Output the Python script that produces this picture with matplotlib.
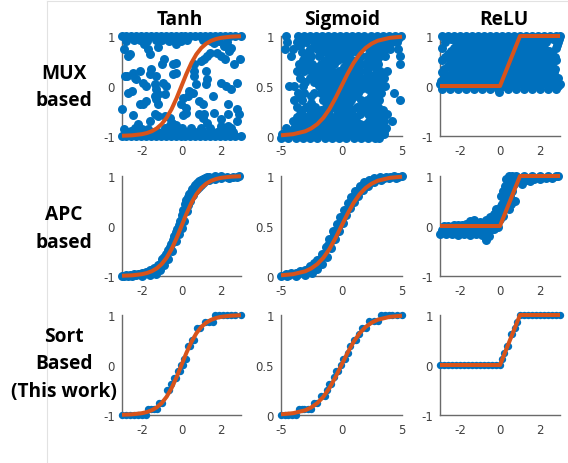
import matplotlib
matplotlib.use("Agg")
import matplotlib.pyplot as plt
from matplotlib.lines import Line2D

W, H = 568, 464
BLUE = "#0070BD"
ORANGE = "#D8531A"

# curves
tanh_x = [-3, -2.5, -2, -1.75, -1.5, -1.25, -1, -0.75, -0.5, -0.25, 0, 0.25, 0.5, 0.75, 1, 1.25, 1.5, 1.75, 2, 2.5, 3]
tanh_y = [-0.995, -0.987, -0.964, -0.941, -0.905, -0.848, -0.762, -0.635, -0.462, -0.245, 0, 0.245, 0.462, 0.635, 0.762, 0.848, 0.905, 0.941, 0.964, 0.987, 0.995]
sig_x = [-5, -4, -3, -2.5, -2, -1.5, -1, -0.5, 0, 0.5, 1, 1.5, 2, 2.5, 3, 4, 5]
sig_y = [0.007, 0.018, 0.047, 0.076, 0.119, 0.182, 0.269, 0.378, 0.5, 0.622, 0.731, 0.818, 0.881, 0.924, 0.953, 0.982, 0.993]
relu_x = [-3, 0, 1, 3]
relu_y = [0, 0, 1, 1]

# MUX based, Tanh
mux_tanh_edge = [-3, -2.8, -2.55, -2.3, -2.05, -1.8, -1.55, -1.3, -1.05, -0.8, -0.55, -0.3, -0.05, 0.2, 0.45, 0.7, 0.95, 1.2, 1.45, 1.7, 1.95, 2.2, 2.45, 2.7, 3]
mux_tanh_pts = [
    (-2.9, 0.75), (-2.6, 0.64), (-2.7, 0.6), (-1.9, 0.84), (-1.7, 0.74), (-1.6, 0.64), (-1.2, 0.78), (-0.9, 0.54),
    (-1.0, 0.45), (-0.3, 0.84), (-0.3, 0.47), (-0.45, 0.44), (0.65, 0.44), (1.0, 0.5), (1.3, 0.6), (1.8, 0.67),
    (2.0, 0.6), (2.2, 0.54), (2.65, 0.44), (2.95, 0.54), (1.65, 0.87), (2.15, 0.8), (2.5, 0.77), (2.4, 0.7),
    (1.15, 0.54), (1.45, 0.67), (-2.8, 0.9), (-2.4, 0.92), (-2.1, 0.92), (-1.75, 0.9), (-1.3, 0.92), (-1.0, 0.92),
    (-0.65, 0.9), (-0.4, 0.92), (-0.05, 0.9), (0.3, 0.92), (1.1, 0.92), (1.5, 0.9), (1.9, 0.9), (2.3, 0.88),
    (-2.85, 0.21), (-2.73, 0.21), (-2.43, 0.27), (-2.1, 0.31), (-2.35, 0.17), (-2.27, 0.14), (-1.93, 0.07),
    (-1.77, 0.01), (-1.52, 0.34), (-1.27, 0.21), (-1.6, 0.24), (-1.35, 0.04), (-1.27, -0.06), (-1.18, -0.16),
    (-0.93, 0.07), (-0.77, 0.01), (-0.43, 0.24), (-0.27, 0.27), (0.65, 0.31), (0.65, 0.21), (1.23, 0.31),
    (1.28, 0.14), (1.23, 0.04), (1.98, 0.07), (2.23, 0.01), (2.48, -0.06), (2.78, 0.07), (0.73, 0.04),
    (0.57, -0.13), (0.32, -0.19), (0.07, -0.23), (0.4, -0.09), (-2.68, -0.13), (-2.52, -0.09), (-1.77, -0.29),
    (-1.93, -0.36), (-2.1, -0.36), (-1.35, -0.19), (-1.27, -0.26), (-1.18, -0.36), (-0.85, -0.16), (1.6, -0.19),
    (0.9, -0.29), (1.07, -0.36), (1.15, -0.56), (0.23, -0.43), (0.23, -0.53), (-0.02, -0.36), (2.32, -0.36),
    (-3.0, -0.45), (-2.43, -0.58), (-1.6, -0.69), (-1.35, -0.56), (-1.18, -0.59), (-0.85, -0.59), (-0.6, -0.63),
    (0.07, -0.58), (0.9, -0.56), (1.07, -0.63), (1.65, -0.53), (2.32, -0.56), (2.82, -0.46), (2.9, -0.56),
    (1.98, -0.66), (2.82, -0.69), (-2.9, -0.86), (-2.35, -0.83), (-2.2, -0.76), (-2.0, -0.86), (-2.55, -0.89),
    (-1.7, -0.86), (-0.5, -0.73), (-0.45, -0.86), (-0.85, -0.83), (0, -0.83), (0.5, -0.83), (1.3, -0.73),
    (1.45, -0.83), (1.98, -0.86), (2.32, -0.79), (2.5, -0.83), (0.98, -0.83), (-0.6, -0.78), (-0.3, -0.78),
    (-0.1, -0.92), (0.3, -0.92), (0.7, -0.92), (1.1, -0.92), (1.5, -0.92), (1.8, -0.92), (2.2, -0.92),
    (2.6, -0.92), (-2.7, -0.92), (-2.3, -0.92), (-1.9, -0.92), (-1.5, -0.92), (-1.2, -0.92), (-0.8, -0.92),
    (-0.5, -0.92), (2.0, -0.8),
]

# MUX based, Sigmoid (one list of x per y level)
mux_sig_levels = [1.0, 0.97, 0.94, 0.9, 0.87, 0.84, 0.8, 0.76, 0.72, 0.69, 0.65, 0.62, 0.58, 0.54, 0.5, 0.47, 0.43, 0.4, 0.36, 0.33, 0.29, 0.26, 0.22, 0.19, 0.15, 0.12, 0.08, 0.05, 0.02, -0.02]
mux_sig_rows = [
    [-4.6, -3.6, -3.1, -2.6, -2.1, -1.6, -1.1, -0.6, -0.1, 0.4, 0.9, 1.4, 1.9, 2.4, 2.9, 3.4, 3.9, 4.4, 4.9],
    [-3.3, -2.8, -2.3, -1.8, -1.3, -0.8, -0.3, 0.2, 0.7, 1.2, 1.7, 2.2, 2.7, 3.2, 3.7, 4.2, 4.7],
    [-4.5, -3.7, -2.9, -2.3, -1.8, -1.3, -0.8, -0.3, 0.2, 0.7, 1.2, 1.7, 2.2, 2.7, 3.2, 3.7, 4.2, 4.6],
    [-3.4, -2.3, -1.7, -1.2, -0.6, -0.1, 0.4, 0.9, 1.5, 2.0, 2.6, 3.3, 3.8],
    [-4.7, -4.0, -2.6, -2.0, -1.5, -0.9, -0.4, 0.1, 0.6, 1.1, 2.3, 3.0, 3.5, 4.0, 4.7],
    [-3.3, -2.7, -1.6, -1.2, -0.7, -0.2, 0.3, 0.8, 1.3, 2.4, 2.9, 3.4],
    [-4.2, -3.0, -2.5, -1.9, -1.0, -0.5, 0.0, 0.5, 1.6, 2.1, 2.7, 3.2, 3.6, 4.8],
    [-3.2, -2.7, -1.4, -0.8, -0.3, 0.3, 0.9, 1.4, 2.3, 2.9],
    [-3.5, -3.0, -2.4, -1.7, -1.1, -0.6, 0.6, 1.2, 1.9, 2.5, 3.0, 4.8],
    [-3.4, -2.8, -2.1, -1.5, -1.0, 0.2, 0.8, 1.3, 2.3, 2.8],
    [-3.7, -3.1, -2.5, -1.9, -1.3, -0.8, -0.2, 0.4, 1.0, 1.5, 2.1, 3.2, 3.8],
    [-2.2, -1.6, -1.1, -0.6, 0.1, 0.7, 1.3, 2.2, 2.8, 3.4],
    [-3.4, -2.6, -2.0, -1.5, -0.9, -0.3, 0.3, 1.0, 1.7, 2.4, 3.0, 3.5],
    [-3.0, -2.3, -1.7, -1.2, -0.6, 0, 0.7, 1.4, 2.1, 2.7, 3.3],
    [-4.3, -3.9, -3.2, -1.9, -1.4, -0.8, -0.2, 0.5, 1.2, 1.9, 2.5, 3.1, 3.6],
    [-1.6, -1.0, -0.4, 0.3, 1.0, 1.6, 2.2, 2.8],
    [-3.6, -3.1, -2.3, -1.7, -1.1, -0.5, 0.2, 0.8, 1.4, 2.8, 3.3, 4.3],
    [-3.4, -2.5, -1.3, -0.7, -0.1, 0.5, 1.1, 2.4, 3.0],
    [-3.9, -3.3, -1.5, -0.9, -0.3, 0.3, 0.8, 1.6, 2.1, 2.6, 3.1, 4.8],
    [-2.5, -1.1, -0.5, 0.1, 0.6, 1.9, 2.3, 2.8],
    [-3.7, -2.9, -2.2, -1.3, -0.6, 0, 0.6, 1.3, 2.0, 2.5, 3.0],
    [-3.3, -2.5, -1.7, -1.0, -0.3, 0.3, 0.9, 1.6, 2.3, 2.8, 3.4],
    [-3.4, -2.6, -2.0, -1.1, -0.4, 0.2, 0.9, 1.5, 2.2, 3.1, 3.8],
    [-3.7, -3.0, -2.3, -1.6, -0.9, -0.2, 0.5, 1.2, 2.5, 3.3],
    [-4.0, -3.3, -2.6, -1.9, -1.3, -0.7, 0.0, 0.6, 1.2, 2.3, 2.9, 3.5, 4.2],
    [-3.6, -3.0, -2.3, -1.6, -1.0, -0.4, 0.3, 0.9, 1.5, 2.0, 2.6, 3.2],
    [-4.6, -3.9, -3.2, -2.6, -2.0, -1.4, -0.8, -0.2, 0.4, 1.0, 1.6, 2.2, 2.8, 3.3, 3.7],
    [-4.3, -3.5, -2.9, -2.3, -1.7, -1.1, -0.5, 0.1, 0.7, 1.3, 1.9, 2.5, 3.0, 3.5],
    [-4.9, -4.3, -3.7, -3.1, -2.5, -1.9, -1.3, -0.7, -0.1, 0.5, 1.1, 1.7, 2.3, 2.9, 3.5],
    [-5, -4.4, -3.8, -3.2, -2.6, -2.0, -1.4, -0.8, -0.2, 0.4, 1.0, 1.6, 2.2, 2.8, 3.1],
]

# MUX based, ReLU (one list of x per y level)
mux_relu_levels = [1.0, 0.94, 0.88, 0.82, 0.76, 0.7, 0.64, 0.58, 0.52, 0.46, 0.4, 0.34, 0.28, 0.22, 0.16, 0.1, 0.05, 0.0, -0.05, -0.12]
mux_relu_rows = [
    [-2.9, -2.6, -2.3, -2.0, -1.7, -1.4, -1.1, -0.8, -0.5, -0.2, 0.1, 0.4, 0.7, 1.0, 1.3, 1.6, 1.9, 2.2, 2.5, 2.8, 3.0],
    [-2.45, -2.15, -1.85, -1.55, -1.25, -0.95, -0.65, -0.35, -0.05, 0.25, 0.55, 0.85, 1.15, 1.45, 1.75, 2.05, 2.35, 2.65, 2.95],
    [-2.75, -2.2, -1.9, -1.6, -1.3, -1.0, -0.7, -0.4, -0.1, 0.2, 0.5, 0.8, 1.1, 1.4, 1.7, 2.0, 2.3, 2.9],
    [-2.05, -1.75, -1.45, -1.15, -0.85, -0.55, -0.25, 0.05, 0.35, 0.65, 0.95, 1.25, 1.55, 1.85, 2.15, 2.85],
    [-2.9, -2.3, -2.0, -1.7, -1.4, -1.1, -0.8, -0.5, -0.2, 0.1, 0.4, 0.7, 1.0, 1.3, 1.6, 1.9, 2.2, 2.8],
    [-2.45, -2.05, -1.75, -1.45, -1.15, -0.85, -0.55, -0.25, 0.05, 0.35, 0.65, 0.95, 1.25, 1.55, 1.85, 2.15, 2.45],
    [-2.6, -2.2, -1.9, -1.6, -1.3, -1.0, -0.7, -0.4, -0.1, 0.2, 0.5, 0.8, 1.1, 1.4, 1.7, 2.0, 2.3, 2.6],
    [-2.75, -2.35, -2.05, -1.75, -1.45, -1.15, -0.85, -0.55, -0.25, 0.05, 0.35, 0.65, 0.95, 1.25, 1.55, 1.85, 2.15, 2.45, 2.75],
    [-2.9, -2.4, -2.1, -1.8, -1.5, -1.2, -0.9, -0.6, -0.3, 0, 0.3, 0.6, 0.9, 1.2, 1.5, 1.8, 2.1, 2.4, 2.8],
    [-2.5, -2.25, -1.95, -1.65, -1.35, -1.05, -0.75, -0.45, -0.15, 0.15, 0.45, 0.75, 1.05, 1.35, 1.65, 1.95, 2.25, 2.55],
    [-2.6, -2.2, -1.9, -1.6, -1.3, -1.0, -0.7, -0.4, -0.1, 0.2, 0.5, 0.8, 1.1, 1.4, 1.7, 2.0, 2.3, 2.6],
    [-2.8, -2.35, -2.05, -1.75, -1.45, -1.15, -0.85, -0.55, -0.25, 0.05, 0.35, 0.65, 0.95, 1.25, 1.55, 1.85, 2.15, 2.45, 2.75],
    [-2.9, -2.4, -2.1, -1.8, -1.5, -1.2, -0.9, -0.6, -0.3, 0, 0.3, 0.6, 0.9, 1.2, 1.5, 1.8, 2.1, 2.4, 2.7],
    [-2.65, -2.25, -1.95, -1.65, -1.35, -1.05, -0.75, -0.45, -0.15, 0.15, 0.45, 0.75, 1.05, 1.35, 1.65, 1.95, 2.25, 2.55],
    [-2.8, -2.5, -2.2, -1.9, -1.6, -1.3, -1.0, -0.7, -0.4, -0.1, 0.2, 0.5, 0.8, 1.1, 1.4, 1.7, 2.0, 2.3, 2.9],
    [-2.95, -2.65, -2.35, -2.05, -1.75, -1.45, -1.15, -0.85, -0.55, -0.25, 0.05, 0.35, 0.65, 0.95, 1.25, 1.55, 1.85, 2.15, 2.5, 2.8],
    [-3, -2.7, -2.4, -2.1, -1.8, -1.5, -1.2, -0.9, -0.6, -0.3, 0, 0.3, 0.6, 0.9, 1.2, 1.5, 1.8, 2.1, 2.4, 2.75, 3],
    [-2.85, -2.3, -1.65, -1.05, -0.45, 0.15, 0.75, 1.35, 1.95, 2.55, 2.9],
    [-2.9, -2.5, -2.1, -1.7, -1.3, -0.9, -0.5, -0.1, 0.4, 0.8, 1.2, 1.6, 2.0, 2.4, 2.8],
    [-0.05],
]

# APC based
apc_tanh_pts = [
    (-3, -1), (-2.8, -0.97), (-2.6, -0.98), (-2.4, -0.95), (-2.2, -0.96), (-2.0, -0.93), (-1.8, -0.92), (-1.6, -0.88),
    (-1.4, -0.83), (-1.2, -0.78), (-1.0, -0.66), (-0.8, -0.55), (-0.6, -0.42), (-0.45, -0.27), (-0.3, -0.12),
    (-0.15, 0.02), (0, 0.15), (0.1, 0.32), (0.2, 0.45), (0.35, 0.58), (0.5, 0.68), (0.65, 0.78), (0.8, 0.86),
    (1.0, 0.93), (1.2, 0.97), (1.4, 0.99), (1.7, 1.0), (2.0, 1.0), (2.3, 0.99), (2.6, 0.99), (2.9, 1.0),
    (-2.9, -1.0), (-2.5, -1), (-2, -0.99), (-1.6, -0.97), (-1.3, -0.95), (-1.1, -0.87), (-0.9, -0.78), (-0.7, -0.65),
    (-0.5, -0.5), (-0.3, -0.3), (-0.15, -0.15), (0, -0.03), (0.15, 0.1), (0.3, 0.3), (0.45, 0.5), (0.6, 0.62),
    (0.8, 0.74), (1.0, 0.83), (1.2, 0.9), (1.4, 0.93), (1.7, 0.95), (2, 0.97), (2.4, 0.97), (2.8, 0.98),
    (-2.7, -0.99), (-2.3, -0.98), (-2.1, -0.95), (-1.9, -0.95), (-1.7, -0.92), (-1.5, -0.88), (-1.5, -0.93),
    (-1.3, -0.85), (-1.1, -0.75), (-0.9, -0.62), (-0.7, -0.48), (-0.55, -0.35), (-0.4, -0.2), (-0.25, -0.06),
    (-0.1, 0.1), (0.05, 0.22), (0.2, 0.3), (0.25, 0.52), (0.4, 0.65), (0.55, 0.75), (0.7, 0.82), (0.9, 0.9),
    (1.1, 0.95), (1.3, 0.98), (0.7, 0.7), (0.9, 0.78), (1.1, 0.87), (0.35, 0.42), (0.5, 0.58),
]
apc_sig_pts = [
    (-5, 0), (-4.6, 0.02), (-4.2, 0.03), (-3.8, 0.03), (-3.4, 0.05), (-3, 0.06), (-2.6, 0.1), (-2.3, 0.13), (-2, 0.16),
    (-1.6, 0.22), (-1.3, 0.29), (-1, 0.37), (-0.7, 0.45), (-0.4, 0.52), (-0.1, 0.59), (0.2, 0.66), (0.5, 0.73),
    (0.8, 0.79), (1.1, 0.85), (1.5, 0.9), (1.9, 0.94), (2.3, 0.96), (2.7, 0.98), (3.2, 0.99), (3.7, 0.99), (4.3, 1), (5, 1),
    (-4.5, 0), (-3.8, 0), (-3, 0.01), (-2.4, 0.03), (-2, 0.07), (-1.6, 0.12), (-1.2, 0.19), (-0.9, 0.28), (-0.5, 0.37),
    (-0.2, 0.45), (0.1, 0.53), (0.4, 0.61), (0.7, 0.68), (1, 0.74), (1.4, 0.8), (1.8, 0.86), (2.2, 0.9), (2.7, 0.94),
    (3.3, 0.96), (3.9, 0.98), (4.5, 0.98),
    (-4.3, 0.01), (-3.6, 0.02), (-3.2, 0.04), (-2.8, 0.07), (-2.5, 0.07), (-2.2, 0.1), (-1.8, 0.17), (-1.4, 0.2),
    (-1.1, 0.31), (-0.8, 0.36), (-0.6, 0.42), (-0.3, 0.48), (0, 0.58), (0.3, 0.63), (0.6, 0.73), (0.9, 0.76),
    (1.2, 0.82), (1.6, 0.87), (2, 0.92), (2.5, 0.95), (3, 0.97), (3.5, 0.98), (4, 0.99), (4.7, 0.99),
]
apc_relu_pts = [
    (-3, -0.15), (-2.7, -0.16), (-2.4, -0.15), (-2.1, -0.17), (-1.8, -0.16), (-1.5, -0.17), (-1.2, -0.16), (-0.9, -0.18), (-0.6, -0.17),
    (-2.9, -0.07), (-2.6, -0.08), (-2.3, -0.07), (-2.0, -0.08), (-1.7, -0.07), (-1.4, -0.08), (-1.1, -0.07), (-0.8, -0.08), (-0.5, -0.08),
    (-2.8, 0.01), (-2.3, 0.03), (-1.9, 0.03), (-1.5, 0.1), (-1.3, 0.12), (-1.0, 0.08), (-0.7, 0.12), (-0.5, 0.18),
    (-0.3, 0.25), (-0.2, 0.35), (-0.5, 0.05), (-0.25, 0.1), (0, 0.15), (0, 0.3), (0.1, 0.45), (0.05, 0.6), (0.15, 0.7),
    (0.25, 0.8), (0.3, 0.95), (0.4, 0.85), (0.45, 1), (0.5, 0.6), (0.6, 0.7), (0.75, 0.5), (-0.7, -0.27), (-0.75, -0.2),
    (-0.55, -0.2), (-0.3, -0.05), (-0.1, -0.02), (0.3, 0.4), (0.15, 0.2), (0.7, 0.85),
    (1, 0.9), (1.1, 0.85), (1.3, 0.92), (1.5, 0.9), (1.7, 0.95), (2, 0.95), (2.3, 0.97), (2.6, 0.97), (2.9, 1),
    (1.2, 1), (1.6, 1), (2.0, 1), (2.4, 1), (2.8, 1), (0.8, 1), (0.6, 1),
    (-2.6, 0.01), (-2.1, 0.02), (-1.7, 0.05), (-1.2, 0.03), (-0.9, 0.03), (-0.3, 0.1), (-0.1, 0.2), (0.05, 0.4),
    (0.2, 0.55), (0.3, 0.7), (0.45, 0.35), (0.55, 0.45), (0.4, 0.6), (0.5, 0.8), (0.6, 0.9),
]

# Sort based (stepped points)
sort_tanh_x = [-3, -2.8, -2.6, -2.4, -2.2, -2, -1.8, -1.7, -1.55, -1.4, -1.25, -1.15, -1.0, -0.75, -0.62, -0.55, -0.4, -0.3, -0.2, -0.1, -0.02, 0.08, 0.15, 0.22, 0.35, 0.45, 0.55, 0.65, 0.8, 0.95, 1.2, 1.4, 1.6, 1.7, 1.9, 2.1, 2.3, 2.5, 2.7, 3]
sort_tanh_y = [-1, -1, -1, -1, -1, -1, -1, -0.87, -0.87, -0.87, -0.87, -0.75, -0.75, -0.5, -0.5, -0.38, -0.25, -0.25, -0.12, -0.12, 0, 0, 0.13, 0.13, 0.38, 0.38, 0.5, 0.5, 0.75, 0.75, 0.87, 0.87, 0.87, 1, 1, 1, 1, 1, 1, 1]
sort_sig_x = [-5, -4.7, -4.4, -4.1, -3.8, -3.5, -3.3, -3.1, -2.8, -2.5, -2.3, -2.0, -1.7, -1.4, -1.2, -1.05, -0.85, -0.65, -0.45, -0.25, -0.05, 0.15, 0.3, 0.5, 0.7, 1.0, 1.2, 1.45, 1.7, 2.0, 2.3, 2.7, 3.0, 3.3, 3.6, 3.9, 4.2, 4.6, 5]
sort_sig_y = [0, 0, 0, 0, 0, 0.06, 0.06, 0.06, 0.06, 0.06, 0.12, 0.12, 0.19, 0.19, 0.25, 0.31, 0.31, 0.38, 0.44, 0.44, 0.5, 0.56, 0.56, 0.62, 0.69, 0.75, 0.75, 0.81, 0.87, 0.87, 0.94, 0.94, 0.94, 1, 1, 1, 1, 1, 1]
sort_relu_x = [-3, -2.8, -2.6, -2.4, -2.2, -2, -1.8, -1.6, -1.4, -1.2, -1, -0.8, -0.6, -0.4, -0.2, 0, 0.12, 0.2, 0.35, 0.42, 0.55, 0.62, 0.75, 0.85, 1, 1.2, 1.4, 1.6, 1.8, 2, 2.2, 2.4, 2.6, 2.8, 3]
sort_relu_y = [0, 0, 0, 0, 0, 0, 0, 0, 0, 0, 0, 0, 0, 0, 0, 0, 0.13, 0.25, 0.38, 0.38, 0.63, 0.63, 0.75, 0.87, 1, 1, 1, 1, 1, 1, 1, 1, 1, 1, 1]

column_titles = ["Tanh", "Sigmoid", "ReLU"]
title_centers = [180, 342, 504]
row_labels = [(["MUX", "based"], [74, 101]), (["APC", "based"], [215, 243]), (["Sort", "Based", "(This work)"], [337, 364, 392])]

# pixel boxes of the panels
col_edges = [(122, 241), (281, 402), (440, 560)]
row_edges = [(37, 137), (177, 277), (316, 416)]
marker_sizes = [42, 42, 28]


def unpack(pts):
    return [p[0] for p in pts], [p[1] for p in pts]


def unpack_rows(levels, rows):
    xs, ys = [], []
    for level, row in zip(levels, rows):
        xs += row
        ys += [level] * len(row)
    return xs, ys


mt_x, mt_y = unpack(mux_tanh_pts)
mt_x = mt_x + mux_tanh_edge + mux_tanh_edge
mt_y = mt_y + [1] * len(mux_tanh_edge) + [-1] * len(mux_tanh_edge)

scatter_data = [
    [(mt_x, mt_y), unpack_rows(mux_sig_levels, mux_sig_rows), unpack_rows(mux_relu_levels, mux_relu_rows)],
    [unpack(apc_tanh_pts), unpack(apc_sig_pts), unpack(apc_relu_pts)],
    [(sort_tanh_x, sort_tanh_y), (sort_sig_x, sort_sig_y), (sort_relu_x, sort_relu_y)],
]
curves = [(tanh_x, tanh_y), (sig_x, sig_y), (relu_x, relu_y)]
x_limits = [(-3, 3), (-5, 5), (-3, 3)]
y_limits = [(-1, 1), (0, 1), (-1, 1)]
x_ticks = [[-2, 0, 2], [-5, 0, 5], [-2, 0, 2]]
x_ticklabels = [["-2", "0", "2"], ["-5", "0", "5"], ["-2", "0", "2"]]
y_ticks = [[-1, 0, 1], [0, 0.5, 1], [-1, 0, 1]]
y_ticklabels = [["-1", "0", "1"], ["0", "0.5", "1"], ["-1", "0", "1"]]

fig = plt.figure(figsize=(W / 100, H / 100), dpi=100)

for r, (top, bottom) in enumerate(row_edges):
    for c, (left, right) in enumerate(col_edges):
        ax = fig.add_axes([left / W, 1 - bottom / H, (right - left) / W, (bottom - top) / H])
        sx, sy = scatter_data[r][c]
        ax.scatter(sx, sy, s=marker_sizes[r], color=BLUE, linewidths=0, clip_on=False, zorder=3)
        ax.plot(curves[c][0], curves[c][1], color=ORANGE, lw=2.9, clip_on=False, zorder=4, solid_capstyle="butt")
        ax.set_xlim(x_limits[c])
        ax.set_ylim(y_limits[c])
        ax.set_xticks(x_ticks[c])
        ax.set_xticklabels(x_ticklabels[c])
        ax.set_yticks(y_ticks[c])
        ax.set_yticklabels(y_ticklabels[c])
        ax.tick_params(length=0, labelsize=8.5, labelcolor="#404040")
        ax.tick_params(axis="x", pad=6)
        ax.tick_params(axis="y", pad=5)
        ax.spines["top"].set_visible(False)
        ax.spines["right"].set_visible(False)
        ax.spines["left"].set_color("#6a6a6a")
        ax.spines["bottom"].set_color("#6a6a6a")
        ax.spines["left"].set_linewidth(1.0)
        ax.spines["bottom"].set_linewidth(1.0)

font = ["Open Sans", "DejaVu Sans"]
for name, cx in zip(column_titles, title_centers):
    fig.text(cx / W, 1 - 20 / H, name, ha="center", va="center", fontsize=13.8, fontweight="bold", family=font)
for lines, ys in row_labels:
    for line, y in zip(lines, ys):
        fig.text(64 / W, 1 - y / H, line, ha="center", va="center", fontsize=13.8, fontweight="bold", family=font)

# thin frame left of and above the panels
fig.add_artist(Line2D([47 / W, 47 / W], [0, 1 - 2 / H], color="#e2e2e2", lw=0.8))
fig.add_artist(Line2D([47 / W, 1], [1 - 2 / H, 1 - 2 / H], color="#e2e2e2", lw=0.8))

fig.savefig("out.png", dpi=100)
